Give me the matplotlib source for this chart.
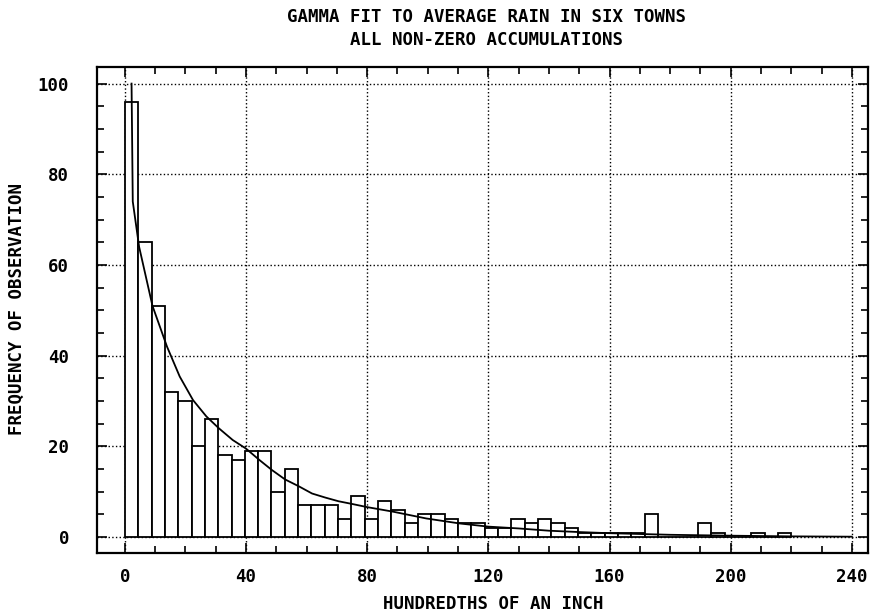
import numpy as np
import matplotlib
matplotlib.use('Agg')
import matplotlib.pyplot as plt
from matplotlib.ticker import MultipleLocator

# Histogram of rain amounts (hundredths of an inch), bins
bin_width = 4.4
counts = [96, 65, 51, 32, 30, 20, 26, 18, 17, 19,
          19, 10, 15, 7, 7, 7, 4, 9, 4, 8,
          6, 3, 5, 5, 4, 3, 3, 2, 2, 4,
          3, 4, 3, 2, 1, 1, 1, 1, 1, 5,
          0, 0, 0, 3, 1, 0, 0, 1, 0, 1]

# Gamma fit curve
fit_x = [2.2, 2.6, 4.7, 9.1, 13.9, 18.1, 22.5, 26.9, 31.0, 35.6,
         40.0, 44.4, 48.5, 52.9, 57.4, 61.8, 66.2, 70.5, 75.0, 80.0,
         88.5, 99.5, 110.5, 120.0, 130.0, 140.0, 150.0, 160.0, 180.0,
         200.0, 220.0, 240.0]
fit_y = [100.0, 74.0, 64.0, 51.0, 42.0, 35.4, 30.2, 26.6, 24.0, 21.4,
         19.5, 17.0, 14.8, 12.7, 11.2, 9.6, 8.7, 7.9, 7.3, 6.6,
         5.6, 4.1, 3.0, 2.3, 1.9, 1.4, 1.1, 0.85, 0.5,
         0.3, 0.15, 0.08]

title1 = 'GAMMA FIT TO AVERAGE RAIN IN SIX TOWNS'
title2 = 'ALL NON-ZERO ACCUMULATIONS'
xlabel = 'HUNDREDTHS OF AN INCH'
ylabel = 'FREQUENCY OF OBSERVATION'

plt.rcParams['font.family'] = 'DejaVu Sans Mono'
plt.rcParams['font.weight'] = 'bold'
plt.rcParams['font.size'] = 12.5

fig = plt.figure(figsize=(8.78, 6.13), dpi=100)
ax = fig.add_axes([0.1105, 0.098, 0.878, 0.793])

left = np.arange(len(counts)) * bin_width
ax.bar(left, counts, width=bin_width, align='edge', color='white',
       edgecolor='black', linewidth=1.3, zorder=2)
ax.plot(fit_x, fit_y, color='black', linewidth=1.3, zorder=3)

ax.set_xlim(-9.2, 245.3)
ax.set_ylim(-3.5, 103.7)
ax.xaxis.set_major_locator(MultipleLocator(40))
ax.xaxis.set_minor_locator(MultipleLocator(10))
ax.yaxis.set_major_locator(MultipleLocator(20))
ax.yaxis.set_minor_locator(MultipleLocator(5))
ax.tick_params(which='both', direction='in', top=True, right=True,
               width=1.2, color='black')
ax.tick_params(which='major', length=7)
ax.tick_params(which='minor', length=5)
ax.tick_params(axis='x', which='major', pad=11)
ax.tick_params(axis='y', which='major', pad=20)
for lab in ax.get_xticklabels() + ax.get_yticklabels():
    lab.set_fontweight('bold')

ax.grid(True, which='major', linestyle=':', color='black', linewidth=1.0)
ax.set_axisbelow(True)
for sp in ax.spines.values():
    sp.set_linewidth(1.6)

# titles and axis labels placed in figure pixels
W, H = 878, 613
fig.text(487 / W, 1 - 17 / H, title1, ha='center', va='center',
         fontsize=12.5, fontweight='bold')
fig.text(487 / W, 1 - 40 / H, title2, ha='center', va='center',
         fontsize=12.5, fontweight='bold')
fig.text(493 / W, 1 - 604 / H, xlabel, ha='center', va='center',
         fontsize=12.5, fontweight='bold')
fig.text(17 / W, 1 - 309 / H, ylabel, ha='center', va='center',
         rotation=90, fontsize=12.5, fontweight='bold')

fig.savefig('out.png', dpi=100)
